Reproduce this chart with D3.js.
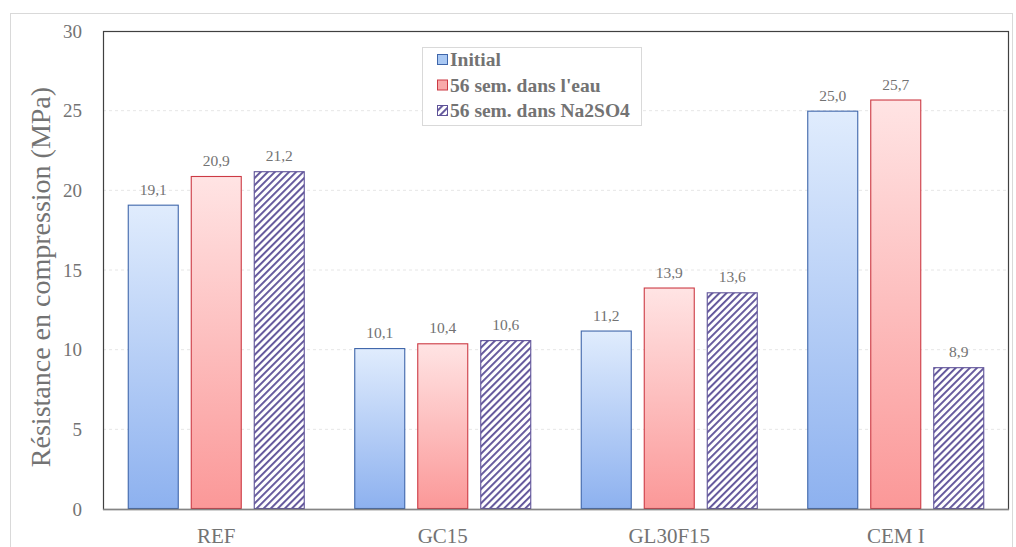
<!DOCTYPE html>
<html><head><meta charset="utf-8">
<script src="https://cdn.jsdelivr.net/npm/d3@7"></script>
<style>body{margin:0;background:#fff}svg{display:block}</style>
</head><body><svg id="c" width="1016" height="547"></svg>
<script>
const categories = ["REF", "GC15", "GL30F15", "CEM I"];
const seriesNames = ["Initial", "56 sem. dans l'eau", "56 sem. dans Na2SO4"];
const initial = [19.1, 10.1, 11.2, 25.0];
const eau = [20.9, 10.4, 13.9, 25.7];
const na2so4 = [21.2, 10.6, 13.6, 8.9];
const yTicks = [0, 5, 10, 15, 20, 25, 30];
const yTitle = "Résistance en compression (MPa)";

const seriesValues = [initial, eau, na2so4];
const svg = d3.select("#c");
const m = {l:103, r:1009, t:31, b:509};
const font = "'Liberation Serif', 'Times New Roman', serif";
const txt = "#737373";

const defs = svg.append("defs");
const g1 = defs.append("linearGradient").attr("id","gBlue").attr("x1",0).attr("y1",0).attr("x2",0).attr("y2",1);
g1.append("stop").attr("offset","0%").attr("stop-color","#e0ecfd");
g1.append("stop").attr("offset","100%").attr("stop-color","#8db1ef");
const g2 = defs.append("linearGradient").attr("id","gRed").attr("x1",0).attr("y1",0).attr("x2",0).attr("y2",1);
g2.append("stop").attr("offset","0%").attr("stop-color","#ffe4e4");
g2.append("stop").attr("offset","100%").attr("stop-color","#fb9898");
const pat = defs.append("pattern").attr("id","hatch").attr("patternUnits","userSpaceOnUse")
  .attr("width",5).attr("height",5).attr("patternTransform","rotate(45)");
pat.append("rect").attr("width",5).attr("height",5).attr("fill","#fff");
pat.append("rect").attr("x",0).attr("width",1.9).attr("height",5).attr("fill","#5f5399");

const fills = ["url(#gBlue)","url(#gRed)","url(#hatch)"];
const strokes = ["#3f66aa","#cc3a44","#5f5399"];
const legendSw = ["#a9c8f3","#f8a9a9","url(#hatch)"];

// outer frame
svg.append("rect").attr("x",10.5).attr("y",13.5).attr("width",1002).attr("height",540)
  .attr("fill","none").attr("stroke","#d9d9d9");

const x0 = d3.scaleBand().domain(categories).range([m.l, m.r]).paddingInner(0).paddingOuter(0);
const x1 = d3.scaleBand().domain(d3.range(3)).range([24.75, x0.bandwidth()-24.75]).paddingInner(12/63).paddingOuter(0);
const y = d3.scaleLinear().domain([0,30]).range([m.b, m.t]);

// gridlines
svg.append("g").selectAll("line").data(yTicks.filter(d=>d>0&&d<30)).join("line")
  .attr("x1",m.l).attr("x2",m.r).attr("y1",d=>y(d)).attr("y2",d=>y(d))
  .attr("stroke","#e6e6e6").attr("stroke-dasharray","3,3");

// bars
categories.forEach((c,ci)=>{
  seriesValues.forEach((vals,si)=>{
    const v = vals[ci];
    const bx = x0(c)+x1(si), bw = x1.bandwidth();
    svg.append("rect").attr("x",bx+0.5).attr("y",y(v)+0.5).attr("width",bw-1).attr("height",y(0)-y(v)-1)
      .attr("fill",fills[si]).attr("stroke",strokes[si]).attr("stroke-width",1.1);
    svg.append("text").attr("x",bx+bw/2).attr("y",y(v)-10).attr("text-anchor","middle")
      .style("font-family",font).style("font-size","15.5px").attr("fill",txt)
      .text(v.toFixed(1).replace(".",","));
  });
});

// plot frame
svg.append("rect").attr("x",m.l+0.5).attr("y",m.t+0.5).attr("width",m.r-m.l-1).attr("height",m.b-m.t)
  .attr("fill","none").attr("stroke","#404040").attr("stroke-width",1.2);
svg.append("line").attr("x1",m.l).attr("x2",m.r).attr("y1",m.b+0.5).attr("y2",m.b+0.5).attr("stroke","#858585").attr("stroke-width",1.5);

// y axis
const ya = svg.append("g").attr("transform",`translate(${m.l},0)`)
  .call(d3.axisLeft(y).tickValues(yTicks).tickSize(0).tickPadding(21));
ya.select(".domain").remove();
ya.selectAll("text").style("font-family",font).style("font-size","19px").attr("fill",txt);

// x axis
const xa = svg.append("g").attr("transform",`translate(0,${m.b})`)
  .call(d3.axisBottom(x0).tickSize(0).tickPadding(19));
xa.select(".domain").remove();
xa.selectAll("text").style("font-family",font).style("font-size","21px").attr("fill",txt);

// y title
svg.append("text").attr("transform",`translate(50,277) rotate(-90)`)
  .attr("text-anchor","middle").style("font-family",font).style("font-size","28px").attr("fill",txt)
  .text(yTitle);

// legend
const lg = svg.append("g").attr("transform","translate(422,47)");
lg.append("rect").attr("x",0.5).attr("y",0.5).attr("width",219).attr("height",78).attr("fill","#fff").attr("stroke","#d9d9d9");
seriesNames.forEach((n,i)=>{
  const yy = 12.5 + i*25.5;
  lg.append("rect").attr("x",15.5).attr("y",yy-5).attr("width",10).attr("height",10)
    .attr("fill",legendSw[i]).attr("stroke",strokes[i]);
  lg.append("text").attr("x",28).attr("y",yy+6.5).style("font-family",font).style("font-weight","bold")
    .style("font-size","19.5px").attr("fill",txt).text(n);
});
</script></body></html>
